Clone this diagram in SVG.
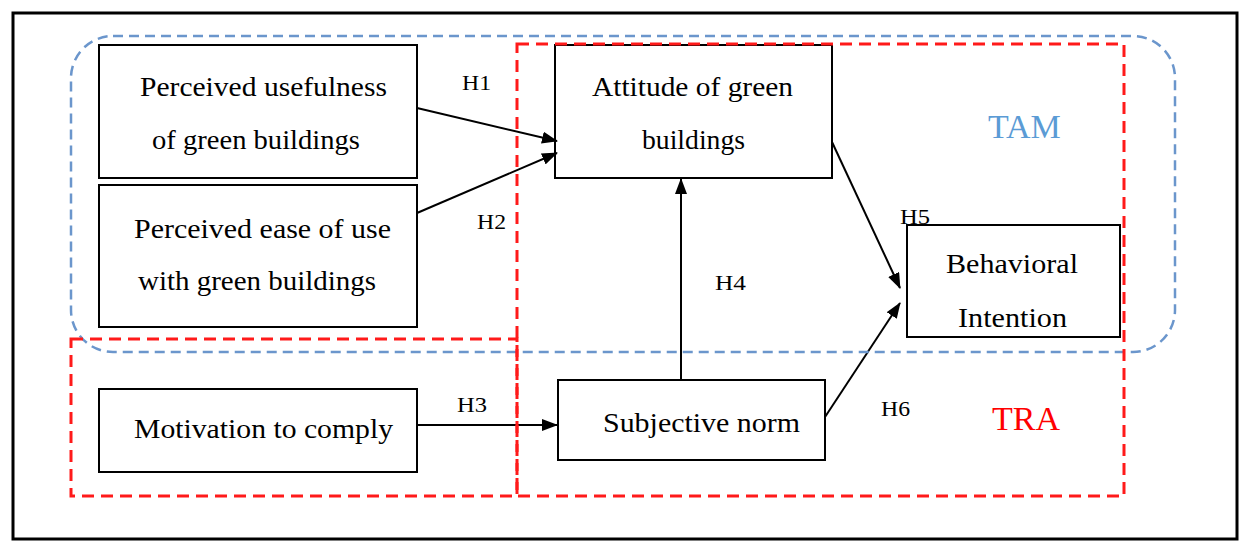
<svg xmlns="http://www.w3.org/2000/svg" width="1241" height="543" viewBox="0 0 1241 543">
  <defs>
    <marker id="arr" viewBox="0 0 16 12" refX="15" refY="6" markerWidth="16" markerHeight="12" markerUnits="userSpaceOnUse" orient="auto">
      <path d="M0,0 L16,6 L0,12 Z" fill="#000"/>
    </marker>
    <style>
      .box { fill: #fff; stroke: #000; stroke-width: 2; }
      .edge { stroke: #000; stroke-width: 2; fill: none; marker-end: url(#arr); }
      .blue { fill: none; stroke: #6b96cc; stroke-width: 2.5; stroke-dasharray: 10 6; }
      .red { fill: none; stroke: #ff1a1a; stroke-width: 3; stroke-dasharray: 12 7; }
    </style>
  </defs>
  <rect x="0" y="0" width="1241" height="543" fill="#fff"/>
  <rect x="13" y="13" width="1224" height="526" fill="#fff" stroke="#000" stroke-width="3"/>

  <g font-family="Liberation Serif, serif" font-size="28" fill="#000">
    <g id="node-pu">
      <rect class="box" x="99" y="45" width="318" height="133"/>
      <text x="140" y="96" textLength="247" lengthAdjust="spacingAndGlyphs">Perceived usefulness</text>
      <text x="152" y="149" textLength="208" lengthAdjust="spacingAndGlyphs">of green buildings</text>
    </g>
    <g id="node-peou">
      <rect class="box" x="99" y="185" width="318" height="142"/>
      <text x="134" y="238" textLength="257" lengthAdjust="spacingAndGlyphs">Perceived ease of use</text>
      <text x="138" y="290" textLength="238" lengthAdjust="spacingAndGlyphs">with green buildings</text>
    </g>
    <g id="node-att">
      <rect class="box" x="555" y="45" width="277" height="133"/>
      <text x="592" y="96" textLength="201" lengthAdjust="spacingAndGlyphs">Attitude of green</text>
      <text x="642" y="149" textLength="103" lengthAdjust="spacingAndGlyphs">buildings</text>
    </g>
    <g id="node-bi">
      <rect class="box" x="907" y="225" width="213" height="112"/>
      <text x="946" y="273" textLength="132" lengthAdjust="spacingAndGlyphs">Behavioral</text>
      <text x="958" y="327" textLength="109" lengthAdjust="spacingAndGlyphs">Intention</text>
    </g>
    <g id="node-mc">
      <rect class="box" x="99" y="389" width="318" height="83"/>
      <text x="134" y="438" textLength="259" lengthAdjust="spacingAndGlyphs">Motivation to comply</text>
    </g>
    <g id="node-sn">
      <rect class="box" x="558" y="380" width="267" height="80"/>
      <text x="603" y="432" textLength="197" lengthAdjust="spacingAndGlyphs">Subjective norm</text>
    </g>
  </g>

  <g id="connectors">
    <line class="edge" x1="417" y1="108" x2="557" y2="141"/>
    <line class="edge" x1="417" y1="213" x2="557" y2="153"/>
    <line class="edge" x1="417" y1="425" x2="557" y2="425"/>
    <line class="edge" x1="681" y1="380" x2="681" y2="179"/>
    <line class="edge" x1="832" y1="142" x2="900" y2="288"/>
    <line class="edge" x1="825" y1="417" x2="900" y2="303"/>
  </g>

  <g id="frames">
    <rect class="blue" x="71" y="36" width="1104" height="316" rx="42" ry="42"/>
    <rect class="red" x="517" y="44" width="607" height="452"/>
    <rect class="red" x="71" y="339" width="446" height="157"/>
  </g>

  <g id="labels" font-family="Liberation Serif, serif">
    <g font-size="21" fill="#000">
      <text x="462" y="90" textLength="29" lengthAdjust="spacingAndGlyphs">H1</text>
      <text x="477" y="229" textLength="29" lengthAdjust="spacingAndGlyphs">H2</text>
      <text x="457" y="412" textLength="30" lengthAdjust="spacingAndGlyphs">H3</text>
      <text x="715" y="290" textLength="31" lengthAdjust="spacingAndGlyphs">H4</text>
      <text x="900" y="224" textLength="30" lengthAdjust="spacingAndGlyphs">H5</text>
      <text x="881" y="416" textLength="29" lengthAdjust="spacingAndGlyphs">H6</text>
    </g>
    <text x="988" y="138" font-size="34" fill="#5b9bd5">TAM</text>
    <text x="992" y="430" font-size="34" fill="#ff0000">TRA</text>
  </g>
</svg>
